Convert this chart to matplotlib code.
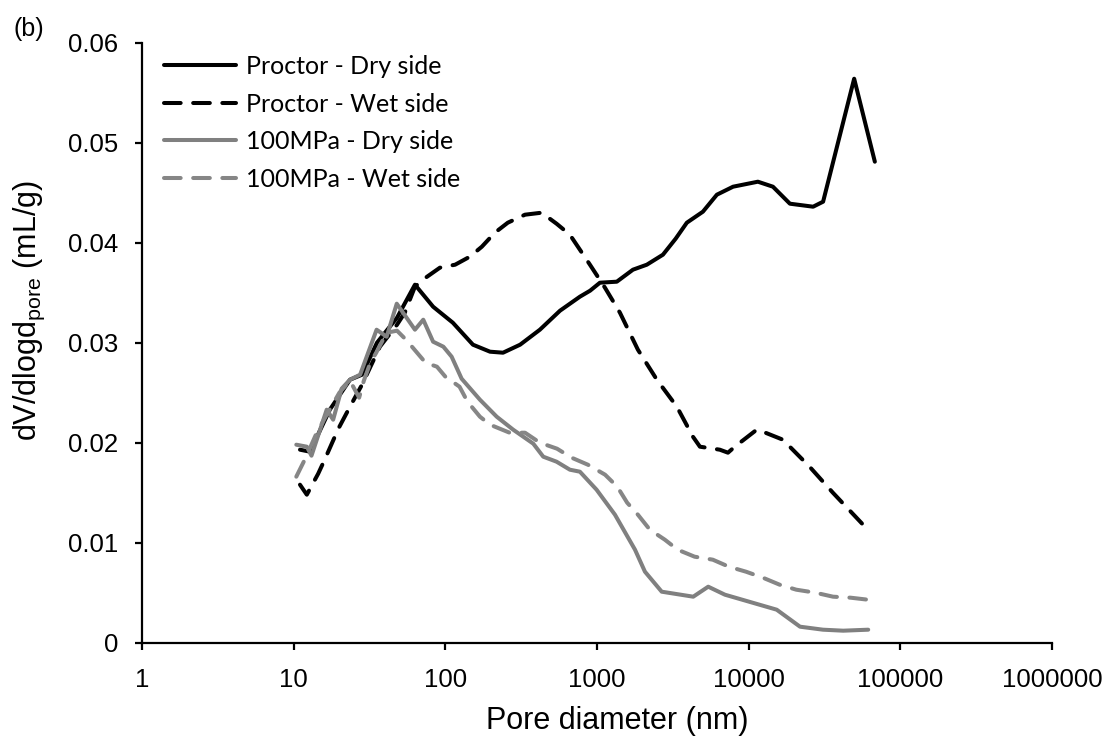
import numpy as np
import matplotlib
matplotlib.use("Agg")
import matplotlib.pyplot as plt

plt.rcParams['font.family'] = ['Liberation Sans', 'DejaVu Sans']
plt.rcParams['mathtext.default'] = 'regular'
plt.rcParams['lines.scale_dashes'] = False

# Proctor - Dry side
proctor_dry_d = [11.0, 12.8, 17.3, 23.5, 28.2, 35.4, 48, 63, 83, 112, 152, 197, 240, 311,
                 420, 570, 771, 900, 1045, 1350, 1725, 2130, 2720, 3300, 3910, 4990, 6170,
                 7890, 11500, 14450, 18700, 26600, 30950, 49600, 67900]
proctor_dry_v = [0.0193, 0.0191, 0.0233, 0.0263, 0.0268, 0.0300, 0.0325, 0.0358, 0.0336,
                 0.0320, 0.0298, 0.0291, 0.0290, 0.0298, 0.0313, 0.0332, 0.0346, 0.0352,
                 0.0360, 0.0361, 0.0373, 0.0378, 0.0388, 0.0404, 0.0420, 0.0431, 0.0448,
                 0.0456, 0.0461, 0.0456, 0.0439, 0.0436, 0.0441, 0.0564, 0.0481]

# Proctor - Wet side
proctor_wet_d = [11.0, 12.2, 14.5, 16, 19.7, 23.5, 28.2, 37, 48, 54, 63, 71, 92, 116, 145,
                 174, 212, 258, 335, 431, 541, 662, 898, 1128, 1416, 1860, 2480, 3360, 4290,
                 4770, 6450, 7300, 8100, 11300, 12400, 16800, 25200, 35900, 61000]
proctor_wet_v = [0.0158, 0.0148, 0.0169, 0.0183, 0.0214, 0.0236, 0.0258, 0.0296, 0.0318,
                 0.0330, 0.0356, 0.0363, 0.0375, 0.0378, 0.0386, 0.0396, 0.0410, 0.0420,
                 0.0428, 0.0430, 0.0419, 0.0408, 0.0378, 0.0355, 0.0330, 0.0293, 0.0263,
                 0.0236, 0.0206, 0.0196, 0.0193, 0.0190, 0.0196, 0.0213, 0.0211, 0.0203,
                 0.0176, 0.0150, 0.0113]

# 100MPa - Dry side
mpa_dry_d = [10.4, 12.2, 13.1, 16.5, 18.2, 20.7, 23.5, 27.4, 35.2, 41, 47.8, 63, 71.5, 83,
             97, 110, 128, 169, 218, 280, 380, 442, 541, 662, 771, 993, 1313, 1780, 2070,
             2670, 4310, 5410, 6970, 15300, 21800, 30900, 42000, 61400]
mpa_dry_v = [0.0198, 0.0196, 0.0187, 0.0233, 0.0223, 0.0254, 0.0263, 0.0268, 0.0313, 0.0306,
             0.0339, 0.0313, 0.0323, 0.0301, 0.0296, 0.0286, 0.0264, 0.0243, 0.0226, 0.0213,
             0.0199, 0.0186, 0.0181, 0.0173, 0.0171, 0.0153, 0.0128, 0.0093, 0.0071, 0.0051,
             0.0046, 0.0056, 0.0048, 0.0033, 0.0016, 0.0013, 0.0012, 0.0013]

# 100MPa - Wet side
mpa_wet_d = [10.4, 12.0, 14.0, 16.5, 20, 23.5, 27, 29, 32, 35, 41, 48, 55, 61, 74, 88, 100,
             124, 140, 169, 197, 265, 335, 420, 545, 680, 870, 1130, 1360, 1580, 1860, 2230,
             2800, 3400, 4400, 5800, 7400, 9600, 12400, 16000, 20600, 27500, 36000, 47000,
             61000]
mpa_wet_v = [0.0166, 0.0185, 0.0208, 0.0228, 0.0250, 0.0262, 0.0245, 0.0262, 0.0280, 0.0290,
             0.0310, 0.0312, 0.0303, 0.0295, 0.0280, 0.0276, 0.0266, 0.0256, 0.0241, 0.0226,
             0.0218, 0.0210, 0.0210, 0.0200, 0.0194, 0.0185, 0.0178, 0.0168, 0.0156, 0.0140,
             0.0128, 0.0113, 0.0103, 0.0093, 0.0086, 0.0083, 0.0076, 0.0071, 0.0065, 0.0058,
             0.0053, 0.0050, 0.0046, 0.0045, 0.0043]

x_ticks = [1, 10, 100, 1000, 10000, 100000, 1000000]
y_ticks = [0, 0.01, 0.02, 0.03, 0.04, 0.05, 0.06]

fig = plt.figure(figsize=(11.15, 7.4), dpi=100)
ax = fig.add_axes([0.1274, 0.1315, 0.8161, 0.8108])

lw = 2.9
dash = (0, (12, 9))
ax.plot(proctor_dry_d, proctor_dry_v, color='black', lw=lw, label='Proctor - Dry side',
        solid_joinstyle='round', solid_capstyle='round')
ax.plot(proctor_wet_d, proctor_wet_v, color='black', lw=lw, ls=dash, label='Proctor - Wet side',
        dash_capstyle='round', dash_joinstyle='round')
ax.plot(mpa_dry_d, mpa_dry_v, color='#808080', lw=lw, label='100MPa - Dry side',
        solid_joinstyle='round', solid_capstyle='round')
ax.plot(mpa_wet_d, mpa_wet_v, color='#868686', lw=lw, ls=dash, label='100MPa - Wet side',
        dash_capstyle='round', dash_joinstyle='round')

ax.set_xscale('log')
ax.set_xlim(1, 1000000)
ax.set_ylim(0, 0.06)
ax.set_xticks(x_ticks)
ax.set_xticklabels([str(t) for t in x_ticks])
ax.minorticks_off()
ax.set_yticks(y_ticks)
ax.set_yticklabels(['0'] + ['%.2f' % t for t in y_ticks[1:]])

for s in ['top', 'right']:
    ax.spines[s].set_visible(False)
for s in ['left', 'bottom']:
    ax.spines[s].set_linewidth(1.6)
ax.tick_params(axis='both', direction='out', length=5, width=1.6, labelsize=18.5)
ax.tick_params(axis='y', pad=12)
ax.tick_params(axis='x', pad=13)

ax.set_xlabel('Pore diameter (nm)', fontsize=22)
ax.xaxis.set_label_coords(0.522, -0.105)
ax.set_ylabel(r'dV/dlogd$_{pore}$ (mL/g)', fontsize=22)
ax.yaxis.set_label_coords(-0.105, 0.553)

leg = ax.legend(loc='upper left', bbox_to_anchor=(0.01, 1.0), frameon=False,
                prop={'family': 'Lato', 'size': 18}, handlelength=2.9,
                handletextpad=0.4, labelspacing=0.58, borderaxespad=0.1)

fig.text(0.012, 0.952, '(b)', fontsize=18)

fig.savefig('out.png', dpi=100)
